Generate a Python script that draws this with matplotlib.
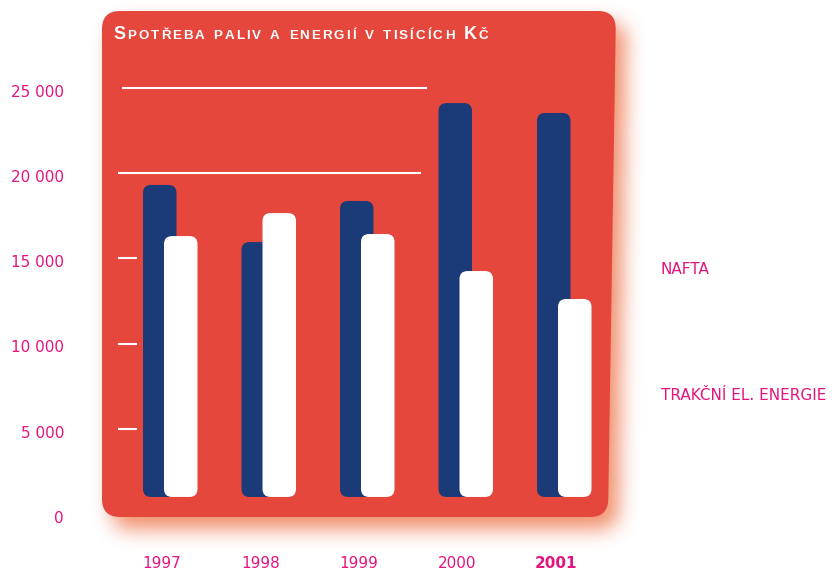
import numpy as np
import matplotlib
matplotlib.use("Agg")
import matplotlib.pyplot as plt
from matplotlib.path import Path
from matplotlib.patches import PathPatch, FancyBboxPatch
import matplotlib.transforms as mtransforms

# ---- data -------------------------------------------------------------
years = ["1997", "1998", "1999", "2000", "2001"]
nafta = [19300, 15950, 18360, 24100, 23520]
trakce = [16300, 17650, 16420, 14250, 12610]
y_ticks = [0, 5000, 10000, 15000, 20000, 25000]
y_labels = ["0", "5 000", "10 000", "15 000", "20 000", "25 000"]
series_names = ["NAFTA", "TRAKČNÍ EL. ENERGIE"]
title = "Spotřeba paliv a energií v tisících Kč"
bar_base = 1000

# ---- style ------------------------------------------------------------
RED = "#e5473c"
BLUE = "#1b3a78"
MAGENTA = "#e5137d"
GLOW = np.array([240, 130, 92]) / 255.0
FONT = "DejaVu Sans"

W, H, DPI = 833, 572, 100
fig = plt.figure(figsize=(W / DPI, H / DPI), dpi=DPI)
fig.patch.set_facecolor("white")

# background layer in figure pixels (origin top-left)
bg = fig.add_axes([0, 0, 1, 1])
bg.set_xlim(0, W)
bg.set_ylim(H, 0)
bg.axis("off")


def rounded_polygon(pts, r):
    pts = [np.asarray(p, float) for p in pts]
    n = len(pts)
    verts, codes = [], []
    for i in range(n):
        p0, p1, p2 = pts[i - 1], pts[i], pts[(i + 1) % n]
        v1 = (p0 - p1) / np.linalg.norm(p0 - p1)
        v2 = (p2 - p1) / np.linalg.norm(p2 - p1)
        a, b = p1 + v1 * r, p1 + v2 * r
        verts.append(a)
        codes.append(Path.MOVETO if i == 0 else Path.LINETO)
        verts += [p1, b]
        codes += [Path.CURVE3, Path.CURVE3]
    verts.append(verts[0])
    codes.append(Path.CLOSEPOLY)
    return Path(np.array(verts), codes)


corners = [(102, 11), (616, 11), (608, 517), (102, 517)]
panel = rounded_polygon(corners, 18)

# soft orange glow behind the panel
shifted = rounded_polygon([(x + 10, y + 12) for x, y in corners], 18)
gx, gy = np.meshgrid(np.arange(W) + 0.5, np.arange(H) + 0.5)
mask = shifted.contains_points(np.column_stack([gx.ravel(), gy.ravel()]))
mask = mask.reshape(H, W).astype(float)


def box_blur(a, r):
    for axis in (0, 1):
        pad = [(0, 0), (0, 0)]
        pad[axis] = (r + 1, r)
        c = np.cumsum(np.pad(a, pad, mode="edge"), axis=axis)
        if axis == 0:
            a = (c[2 * r + 1:, :] - c[:-2 * r - 1, :]) / (2 * r + 1)
        else:
            a = (c[:, 2 * r + 1:] - c[:, :-2 * r - 1]) / (2 * r + 1)
    return a


glow = mask
for _ in range(3):
    glow = box_blur(glow, 9)
rgba = np.zeros((H, W, 4))
rgba[..., :3] = GLOW
rgba[..., 3] = np.clip(glow * 0.9, 0, 1)
bg.imshow(rgba, extent=(0, W, H, 0), interpolation="bilinear", aspect="auto", zorder=0)
bg.set_xlim(0, W)
bg.set_ylim(H, 0)
bg.add_patch(PathPatch(panel, facecolor=RED, edgecolor="none", zorder=1))

# ---- data axes --------------------------------------------------------
px_per_group = 98.5
px_per_unit = 0.01705
ax_left, ax_bottom, ax_w, ax_h = 100, 58, 520, 503
first_center = 159.75
ax = fig.add_axes([ax_left / W, ax_bottom / H, ax_w / W, ax_h / H])
ax.set_facecolor("none")
ax.set_xlim((ax_left - first_center) / px_per_group,
            (ax_left + ax_w - first_center) / px_per_group)
ax.set_ylim(0, ax_h / px_per_unit)
for s in ax.spines.values():
    s.set_visible(False)

x = np.arange(len(years))
bw = 0.34
offset = 21 / px_per_group
b1 = ax.bar(x, np.subtract(nafta, bar_base), bottom=bar_base, width=bw, color=BLUE, zorder=2)
b2 = ax.bar(x + offset, np.subtract(trakce, bar_base), bottom=bar_base, width=bw,
            color="white", zorder=3)

# replace the square bars with rounded ones of the same geometry
aspect = (1 / px_per_unit) / (1 / px_per_group)
rad = 8 / px_per_group
for bars, color, z in ((b1, BLUE, 2), (b2, "white", 3)):
    for r in bars:
        fb = FancyBboxPatch((r.get_x(), r.get_y()), r.get_width(), r.get_height(),
                            boxstyle=f"round,pad=0,rounding_size={rad}",
                            mutation_aspect=aspect, facecolor=color,
                            edgecolor="none", zorder=z)
        ax.add_patch(fb)
        r.set_visible(False)


# white guide lines and short ticks
def px_to_x(px):
    return (px - first_center) / px_per_group


ax.hlines(25000, px_to_x(122), px_to_x(427), color="white", lw=1.5, zorder=1)
ax.hlines(20000, px_to_x(118), px_to_x(421), color="white", lw=1.5, zorder=1)
for v in (5000, 10000, 15000):
    ax.hlines(v, px_to_x(118), px_to_x(137), color="white", lw=1.5, zorder=1)

# tick labels
ax.set_yticks(y_ticks)
ax.set_yticklabels(y_labels, fontsize=11, color=MAGENTA, family=FONT)
ax.set_xticks(x + 0.02)
ax.set_xticklabels(years, fontsize=11, color=MAGENTA, family=FONT)
ax.get_xticklabels()[-1].set_fontweight("bold")
ax.tick_params(axis="y", length=0, pad=26)
ax.tick_params(axis="x", length=0, pad=30)
shift = mtransforms.ScaledTranslation(0, -3 / DPI, fig.dpi_scale_trans)
for lab in ax.get_yticklabels():
    lab.set_transform(lab.get_transform() + shift)

# series names on the right
bg.text(661, 269, series_names[0], color=MAGENTA, fontsize=11, family=FONT,
        va="center", ha="left")
bg.text(661, 396, series_names[1], color=MAGENTA, fontsize=11, family=FONT,
        va="center", ha="left")

# small-caps title with letter spacing
fig.canvas.draw()
renderer = fig.canvas.get_renderer()
big, small = 13.0, 9.6
pieces = []
for ch in title:
    if ch == " ":
        pieces.append((None, 0.0))
        continue
    size = big if ch.isupper() else small
    t = bg.text(0, 39, ch.upper(), color="white", fontsize=size, fontweight="bold",
                family="Liberation Sans", ha="left", va="baseline", zorder=5)
    w = t.get_window_extent(renderer).width
    pieces.append((t, w))
space_w = 5.0
x_start, x_end = 113, 488
natural = sum(w for t, w in pieces if t is not None) + space_w * sum(1 for t, _ in pieces if t is None)
track = (x_end - x_start - natural) / (len(pieces) - 1)
cx = x_start
for t, w in pieces:
    if t is None:
        cx += space_w + track
    else:
        t.set_x(cx)
        cx += w + track

fig.savefig("out.png", dpi=DPI, facecolor="white")
